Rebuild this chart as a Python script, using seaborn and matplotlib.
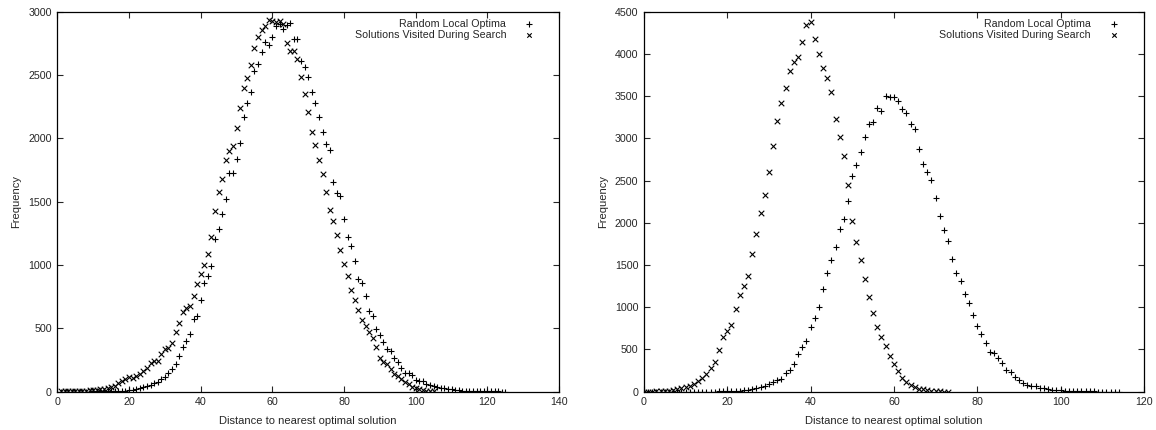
import numpy as np
import pandas as pd
import seaborn as sns
import matplotlib.pyplot as plt

# Left panel: frequency per distance bin (bins start at 1)
left_start = 1
left_random_optima = [
    1, 1, 1, 1, 1, 1, 1, 1, 1, 2, 2, 2, 2, 2, 2, 3, 3, 4, 6,
    10, 15, 20, 26, 34, 42, 52, 65, 80, 100,
    120, 150, 180, 220, 280, 356, 402, 458, 571, 600,
    726, 855, 915, 994, 1207, 1281, 1399, 1525, 1725, 1725,
    1838, 1962, 2170, 2280, 2365, 2534, 2590, 2679, 2763, 2736,
    2797, 2886, 2905, 2860, 2895, 2913, 2780, 2780, 2610, 2563,
    2485, 2362, 2282, 2168, 2053, 1953, 1911, 1656, 1568, 1545,
    1362, 1223, 1150, 1032, 890, 857, 758, 635, 598, 492,
    447, 395, 340, 323, 264, 237, 185, 150, 150, 132,
    92, 82, 82, 61, 53, 45, 34, 26, 26, 18,
    18, 13, 10, 8, 7, 6, 5, 4, 4, 3,
    3, 2, 2, 2, 1, 1,
]
left_visited = [
    2, 3, 3, 4, 5, 6, 7, 9, 11, 13, 16, 20, 24, 29, 36,
    45, 66, 87, 97, 118, 110, 124, 139, 163, 184,
    224, 245, 242, 295, 337, 347, 381, 471, 542, 626,
    660, 676, 755, 847, 926, 999, 1084, 1223, 1425, 1575,
    1678, 1828, 1899, 1941, 2080, 2237, 2397, 2473, 2581, 2712,
    2801, 2851, 2890, 2935, 2922, 2920, 2922, 2900, 2754, 2691,
    2686, 2625, 2484, 2347, 2206, 2051, 1951, 1831, 1720, 1576,
    1436, 1347, 1237, 1119, 1012, 915, 805, 721, 645, 566,
    518, 470, 422, 352, 267, 232, 219, 177, 137, 125,
    98, 80, 58, 39, 29, 19, 13, 8, 3, 2,
]

# Right panel: bins start at 0
right_start = 0
right_random_optima = [
    0, 0, 0, 0, 0, 0, 0, 0, 0, 1,
    1, 1, 1, 1, 1, 2, 2, 2, 3, 4,
    5, 7, 9, 12, 16, 22, 30, 40, 54, 71,
    92, 114, 138, 150, 217, 256, 331, 449, 528, 602,
    767, 877, 1003, 1218, 1411, 1559, 1714, 1922, 2046, 2261,
    2551, 2686, 2843, 3012, 3174, 3190, 3355, 3318, 3497, 3490,
    3490, 3446, 3348, 3297, 3171, 3112, 2872, 2699, 2596, 2502,
    2290, 2080, 1920, 1790, 1570, 1403, 1310, 1162, 1052, 903,
    783, 681, 580, 474, 462, 405, 337, 262, 229, 170,
    136, 104, 85, 73, 65, 47, 43, 33, 26, 20,
    16, 12, 12, 8, 6, 5, 4, 3, 3, 2,
    2, 1, 1, 1, 1,
]
right_visited = [
    1, 1, 2, 3, 4, 6, 10, 18, 28, 40,
    55, 72, 95, 125, 160, 215, 278, 356, 494, 648,
    722, 788, 976, 1144, 1250, 1370, 1630, 1864, 2115, 2333,
    2596, 2907, 3210, 3419, 3600, 3792, 3906, 3957, 4146, 4343,
    4382, 4170, 3997, 3828, 3714, 3544, 3234, 3013, 2793, 2449,
    2026, 1768, 1562, 1330, 1120, 929, 763, 651, 543, 425,
    327, 246, 160, 118, 85, 55, 35, 28, 20, 12,
    8, 4, 2, 2,
]

series_names = ["Random Local Optima", "Solutions Visited During Search"]


def make_df(start, values):
    return pd.DataFrame({"distance": np.arange(start, start + len(values)),
                         "freq": values})


sns.set_style("ticks")
plt.rcParams["font.family"] = ["Liberation Sans", "DejaVu Sans"]
plt.rcParams["font.size"] = 7.7

fig = plt.figure(figsize=(11.56, 4.30), dpi=100)
ax1 = fig.add_axes([0.0496, 0.089, 0.434, 0.884])
ax2 = fig.add_axes([0.557, 0.089, 0.4325, 0.884])

panels = [
    (ax1, left_start, left_random_optima, left_visited, 140, 3000),
    (ax2, right_start, right_random_optima, right_visited, 120, 4500),
]

for ax, start, rlo, vis, xmax, ymax in panels:
    sns.scatterplot(data=make_df(start, rlo), x="distance", y="freq", ax=ax,
                    marker="+", color="black", s=22, linewidth=0.8,
                    label=series_names[0])
    sns.scatterplot(data=make_df(start, vis), x="distance", y="freq", ax=ax,
                    marker="x", color="black", s=16, linewidth=0.8,
                    label=series_names[1])
    ax.set_xlim(0, xmax)
    ax.set_ylim(0, ymax)
    ax.set_xticks(np.arange(0, xmax + 1, 20))
    ax.set_yticks(np.arange(0, ymax + 1, 500))
    ax.tick_params(direction="in", top=True, right=True, length=4.5,
                   width=0.8, labelsize=7.7, pad=4)
    for sp in ax.spines.values():
        sp.set_linewidth(0.9)
        sp.set_color("black")
    ax.set_xlabel("Distance to nearest optimal solution", fontsize=8,
                  labelpad=6)
    ax.set_ylabel("Frequency", fontsize=8, labelpad=5)
    ax.legend(loc="upper right", bbox_to_anchor=(0.98, 1.006),
              frameon=False, markerfirst=False, markerscale=0.8,
              fontsize=7.7, handlelength=2.0, handletextpad=1.1,
              labelspacing=0.1, borderaxespad=0.5, borderpad=0.4)

fig.savefig("out.png", dpi=100)
